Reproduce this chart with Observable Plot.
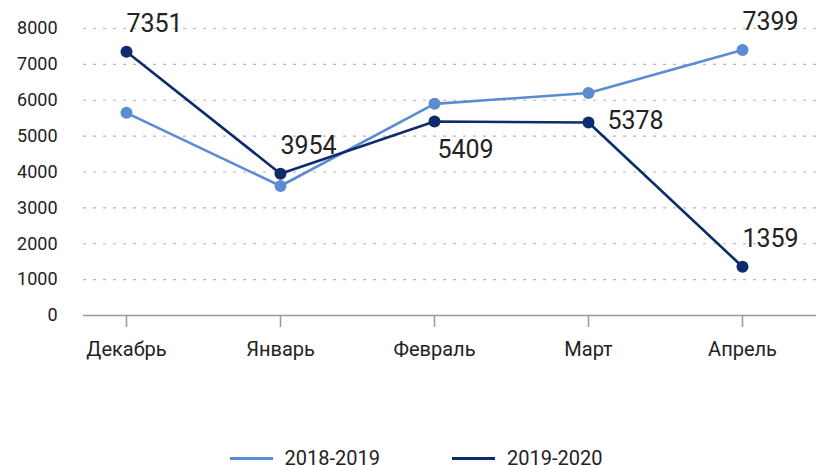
<!DOCTYPE html>
<html>
<head>
<meta charset="utf-8">
<script src="https://cdn.jsdelivr.net/npm/d3@7"></script>
<script src="https://cdn.jsdelivr.net/npm/@observablehq/plot@0.6"></script>
<style>
  body { margin: 0; background: #fff; font-family: Roboto, sans-serif; }
  #legend { display: flex; justify-content: center; align-items: center; gap: 72px; margin-top: 72px; height: 32px; line-height: 32px; font-size: 20px; color: #222; padding-left: 16px; }
  .item { display: flex; align-items: center; gap: 12px; }
  .sw { width: 43px; height: 3px; }
</style>
</head>
<body>
<div id="chart"></div>
<div id="legend"></div>
<script>
const months = ["Декабрь", "Январь", "Февраль", "Март", "Апрель"];
const seriesNames = ["2018-2019", "2019-2020"];
const values2018 = [5650, 3610, 5900, 6200, 7399];
const values2019 = [7351, 3954, 5409, 5378, 1359];
const yTicks = [0, 1000, 2000, 3000, 4000, 5000, 6000, 7000, 8000];
const colors = ["#5b8bd0", "#0e2c6b"];
// labels shown: [series index, month index]
const labelled = [[1, 0], [1, 1], [1, 2], [1, 3], [1, 4], [0, 4]];

const data = [];
[values2018, values2019].forEach((vals, s) => vals.forEach((v, i) => data.push({month: months[i], value: v, series: seriesNames[s]})));
const labels = labelled.map(([s, i]) => data.find(d => d.series === seriesNames[s] && d.month === months[i]));

// label placement offsets (styling)
const place = {
  upRight: {dx: 28, dy: -28},
  below: {dx: 31, dy: 29},
  right: {dx: 47, dy: -2}
};
const placement = d => d.month === "Февраль" ? "below" : d.month === "Март" ? "right" : "upRight";

const labelMarks = Object.entries(place).map(([k, o]) =>
  Plot.text(labels.filter(d => placement(d) === k), {
    x: "month", y: "value", text: d => String(d.value), dx: o.dx, dy: o.dy,
    fontSize: 25, fill: "#222"
  })
);

const chart = Plot.plot({
  width: 816,
  height: 370,
  marginLeft: 83,
  marginRight: 0,
  marginTop: 28,
  marginBottom: 55,
  style: {fontFamily: "Roboto, sans-serif", color: "#222", background: "#fff"},
  x: {type: "point", domain: months, padding: 0, insetLeft: 43, insetRight: 74, label: null},
  y: {domain: [0, 8000], label: null},
  color: {domain: seriesNames, range: colors},
  marks: [
    Plot.ruleY(yTicks.filter(t => t > 0), {stroke: "#b5b5b5", strokeWidth: 1.2, strokeDasharray: "3,7"}),
    Plot.axisY({ticks: yTicks, tickSize: 0, tickPadding: 26, fontSize: 18, tickFormat: d => String(d), label: null}),
    Plot.axisX({tickSize: 12, tickPadding: 14, fontSize: 20, stroke: "#999", strokeWidth: 1.5, label: null}),
    Plot.ruleY([0], {stroke: "#999", strokeWidth: 1.5}),
    Plot.line(data, {x: "month", y: "value", stroke: "series", strokeWidth: 2.6}),
    Plot.dot(data, {x: "month", y: "value", fill: "series", r: 6}),
    ...labelMarks
  ]
});
document.getElementById("chart").appendChild(chart);

const legend = document.getElementById("legend");
seriesNames.forEach((name, i) => {
  const item = document.createElement("div");
  item.className = "item";
  const sw = document.createElement("div");
  sw.className = "sw";
  sw.style.background = colors[i];
  const t = document.createElement("span");
  t.textContent = name;
  item.appendChild(sw);
  item.appendChild(t);
  legend.appendChild(item);
});
</script>
</body>
</html>
